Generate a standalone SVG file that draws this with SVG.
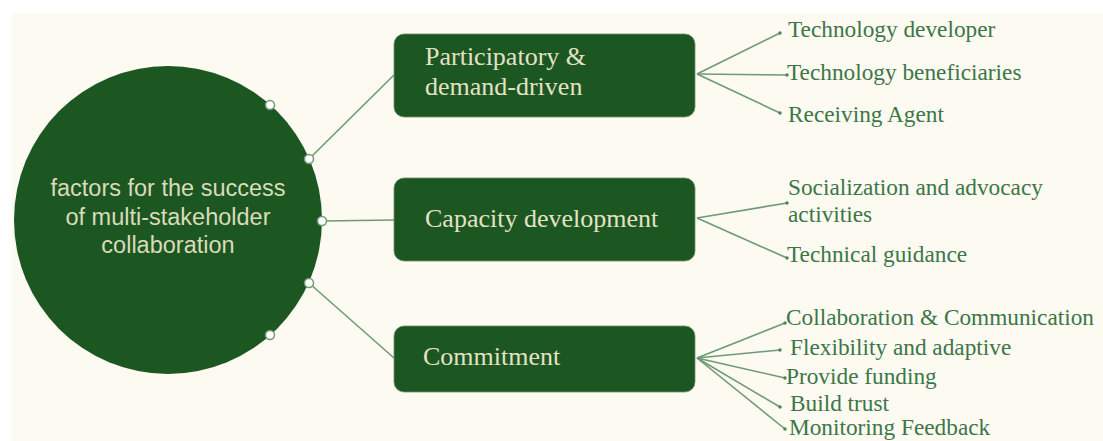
<svg xmlns="http://www.w3.org/2000/svg" width="1103" height="441" viewBox="0 0 1103 441">
<style>
.box{fill:#1c5621;stroke:#6d8f6c;stroke-width:0.8}
.btxt{font-family:"Liberation Serif",serif;font-size:26px;fill:#e4e2c6}
.ctxt{font-family:"Liberation Sans",sans-serif;font-size:23.5px;fill:#d9dbbb;text-anchor:middle}
.leaf{font-family:"Liberation Serif",serif;font-size:23.3px;fill:#3d7648}
.conn{stroke:#6e9a76;stroke-width:1.6;fill:none}
.dot{fill:#ffffff;stroke:#6e9a76;stroke-width:1.5}
</style>
<defs>
<marker id="tip" markerWidth="4" markerHeight="4" refX="2" refY="2" markerUnits="userSpaceOnUse">
<circle cx="2" cy="2" r="1.7" fill="#4f8259"/>
</marker>
</defs>
<rect x="0" y="0" width="1103" height="441" fill="#ffffff"/>
<rect x="12" y="13" width="1091" height="428" fill="#fcfaf1"/>
<g id="connectors">
<line class="conn" x1="309" y1="159" x2="394" y2="75"/>
<line class="conn" x1="322" y1="221" x2="394" y2="220"/>
<line class="conn" x1="309" y1="283" x2="394" y2="358"/>
<g marker-end="url(#tip)">
<line class="conn" x1="697" y1="74" x2="780" y2="33"/>
<line class="conn" x1="697" y1="74" x2="787" y2="75"/>
<line class="conn" x1="697" y1="74" x2="780" y2="113"/>
<line class="conn" x1="697" y1="218" x2="787" y2="203"/>
<line class="conn" x1="697" y1="218" x2="787" y2="258"/>
<line class="conn" x1="697" y1="358" x2="785" y2="323"/>
<line class="conn" x1="697" y1="358" x2="780" y2="350"/>
<line class="conn" x1="697" y1="358" x2="785" y2="378"/>
<line class="conn" x1="697" y1="358" x2="780" y2="407"/>
<line class="conn" x1="697" y1="358" x2="785" y2="429"/>
</g>
</g>
<g id="hub">
<circle cx="168" cy="220" r="154" fill="#1c5621"/>
<text class="ctxt" x="168" y="196">factors for the success</text>
<text class="ctxt" x="168" y="225">of multi-stakeholder</text>
<text class="ctxt" x="168" y="253">collaboration</text>
<circle class="dot" cx="270" cy="105" r="4.5"/>
<circle class="dot" cx="309" cy="159" r="4.5"/>
<circle class="dot" cx="322" cy="221" r="4.5"/>
<circle class="dot" cx="309" cy="283" r="4.5"/>
<circle class="dot" cx="270" cy="335" r="4.5"/>
</g>
<g id="participatory">
<rect class="box" x="394" y="34" width="301" height="83" rx="10"/>
<text class="btxt" x="425" y="65">Participatory &amp;</text>
<text class="btxt" x="425" y="95">demand-driven</text>
</g>
<g id="capacity">
<rect class="box" x="394" y="178" width="301" height="83" rx="10"/>
<text class="btxt" x="425" y="227">Capacity development</text>
</g>
<g id="commitment">
<rect class="box" x="394" y="326" width="301" height="66" rx="10"/>
<text class="btxt" x="423" y="365">Commitment</text>
</g>
<g id="leaf-developer"><text class="leaf" x="788" y="37">Technology developer</text></g>
<g id="leaf-beneficiaries"><text class="leaf" x="787" y="80">Technology beneficiaries</text></g>
<g id="leaf-receiving"><text class="leaf" x="788" y="122">Receiving Agent</text></g>
<g id="leaf-socialization"><text class="leaf" x="788" y="195">Socialization and advocacy</text><text class="leaf" x="788" y="222">activities</text></g>
<g id="leaf-guidance"><text class="leaf" x="787" y="262">Technical guidance</text></g>
<g id="leaf-collab"><text class="leaf" x="786" y="325">Collaboration &amp; Communication</text></g>
<g id="leaf-flex"><text class="leaf" x="790" y="355">Flexibility and adaptive</text></g>
<g id="leaf-funding"><text class="leaf" x="786" y="384">Provide funding</text></g>
<g id="leaf-trust"><text class="leaf" x="790" y="411">Build trust</text></g>
<g id="leaf-monitoring"><text class="leaf" x="789" y="435">Monitoring Feedback</text></g>
</svg>
